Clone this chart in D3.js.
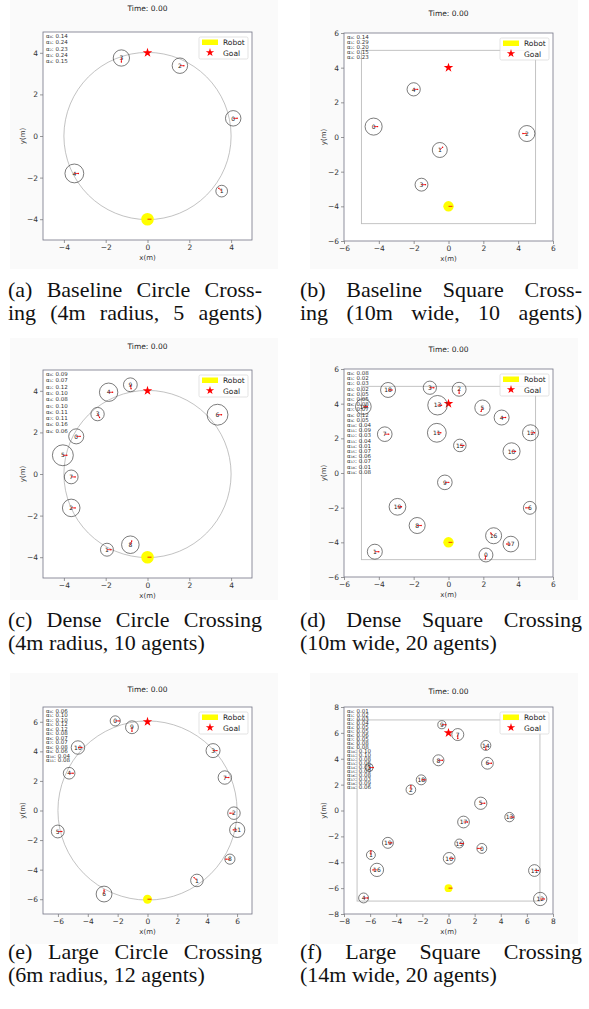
<!DOCTYPE html>
<html>
<head>
<meta charset="utf-8">
<script src="https://cdn.jsdelivr.net/npm/d3@7"></script>
<style>body{margin:0;background:#fff}</style>
</head>
<body>
<div class="canvas"></div>
<script>
// (a) baseline circle crossing
const aX = [4.1, 3.55, 1.55, -1.25, -3.5];
const aY = [0.85, -2.65, 3.38, 3.75, -1.8];
const aR = [0.37, 0.28, 0.37, 0.39, 0.45];
const aHead = [0, 135, 0, -90, 0];
const aAlpha = [0.14, 0.24, 0.23, 0.24, 0.15];

// (b) baseline square crossing
const bX = [-4.3, -0.5, 4.5, -1.55, -2.0];
const bY = [0.6, -0.75, 0.2, -2.75, 2.75];
const bR = [0.49, 0.43, 0.46, 0.37, 0.38];
const bHead = [0, 45, 180, 0, 0];
const bAlpha = [0.14, 0.29, 0.20, 0.15, 0.23];

// (c) dense circle crossing
const cX = [-3.41, -1.94, -3.65, -2.39, -1.86, -4.05, 3.35, -3.65, -0.82, -0.82];
const cY = [1.81, -3.64, -1.63, 2.88, 3.93, 0.9, 2.85, -0.14, -3.4, 4.29];
const cR = [0.36, 0.31, 0.42, 0.32, 0.44, 0.5, 0.5, 0.33, 0.42, 0.33];
const cHead = [0, 0, 0, -60, 0, 0, 0, 0, 70, -80];
const cAlpha = [0.09, 0.07, 0.12, 0.10, 0.08, 0.10, 0.11, 0.11, 0.16, 0.06];

// (d) dense square crossing
const dX = [2.15, -4.23, 0.61, -1.07, 3.05, 1.95, 4.67, -3.66, -1.8, -0.21, 3.62, -0.67, 4.71, -0.63, -4.89, 0.65, 2.59, 3.58, -3.47, -2.93];
const dY = [-4.73, -4.54, 4.83, 4.92, 3.2, 3.77, -2.01, 2.24, -3.03, -0.54, 1.25, 2.32, 2.32, 3.91, 3.83, 1.59, -3.62, -4.1, 4.79, -1.95];
const dR = [0.4, 0.43, 0.4, 0.38, 0.43, 0.44, 0.37, 0.42, 0.46, 0.42, 0.49, 0.54, 0.46, 0.56, 0.45, 0.36, 0.46, 0.45, 0.43, 0.48];
const dHead = [-100, 0, -90, 0, 0, -110, 180, 0, 0, 0, 0, 0, 0, 0, 0, 0, 135, 180, 0, 0];
const dAlpha = [0.08, 0.02, 0.03, 0.02, 0.05, 0.05, 0.08, 0.07, 0.12, 0.05, 0.04, 0.09, 0.03, 0.04, 0.01, 0.07, 0.06, 0.07, 0.01, 0.08];

// (e) large circle crossing
const eX = [-2.16, 3.31, 5.79, 4.39, -5.25, -6.01, -2.91, 5.18, 5.52, -1.04, -4.66, 6.01];
const eY = [6.06, -4.73, -0.18, 4.05, 2.52, -1.42, -5.65, 2.23, -3.29, 5.63, 4.26, -1.31];
const eR = [0.34, 0.42, 0.42, 0.47, 0.39, 0.43, 0.53, 0.45, 0.34, 0.43, 0.45, 0.51];
const eHead = [0, 135, 180, 0, 0, 0, 90, 0, 180, -90, 0, 180];
const eAlpha = [0.06, 0.10, 0.10, 0.12, 0.12, 0.08, 0.07, 0.07, 0.08, 0.06, 0.04, 0.08];

// (f) large square crossing
const fX = [2.55, -5.94, -2.88, -6.07, -6.5, 2.47, 2.98, 0.71, -0.77, -0.51, 0.05, 6.58, 7.02, 4.67, 2.86, 0.82, -5.48, 1.15, -2.09, -4.64];
const fY = [-2.93, -3.44, 1.61, 3.32, -6.76, 0.56, 3.65, 5.87, 3.88, 6.63, -3.7, -4.64, -6.84, -0.51, 5.03, -2.55, -4.59, -0.89, 2.37, -2.5];
const fR = [0.38, 0.34, 0.37, 0.3, 0.38, 0.47, 0.45, 0.46, 0.42, 0.31, 0.45, 0.45, 0.51, 0.36, 0.38, 0.34, 0.51, 0.45, 0.38, 0.42];
const fHead = [180, 90, 90, 0, 0, 0, 0, -90, 0, 0, 0, 0, 0, 0, -90, 0, 180, 0, 0, 0];
const fAlpha = [0.01, 0.02, 0.03, 0.04, 0.05, 0.05, 0.06, 0.05, 0.08, 0.08, 0.10, 0.10, 0.08, 0.06, 0.05, 0.09, 0.08, 0.03, 0.09, 0.06];

const captionA = ['(a) Baseline Circle Cross-', 'ing (4m radius, 5 agents)'];
const captionB = ['(b) Baseline Square Cross-', 'ing (10m wide, 10 agents)'];
const captionC = ['(c) Dense Circle Crossing', '(4m radius, 10 agents)'];
const captionD = ['(d) Dense Square Crossing', '(10m wide, 20 agents)'];
const captionE = ['(e) Large Circle Crossing', '(6m radius, 12 agents)'];
const captionF = ['(f) Large Square Crossing', '(14m wide, 20 agents)'];

// layout of each sub-figure
const panels = [
  {left: 43, top: 32, bottom: 240, lim: 5, step: 2, arena: 'circle', size: 4, bg: [10, 0, 268, 269], titleY: 11, lineH: 6.3,
   X: aX, Y: aY, R: aR, H: aHead, A: aAlpha},
  {left: 344, top: 33, bottom: 241, lim: 6, step: 2, arena: 'square', size: 4, half: 5, bg: [310, 0, 268, 269], titleY: 16, lineH: 5,
   X: bX, Y: bY, R: bR, H: bHead, A: bAlpha},
  {left: 43, top: 370, bottom: 578, lim: 5, step: 2, arena: 'circle', size: 4, bg: [10, 338, 268, 262], titleY: 349, lineH: 6.3,
   X: cX, Y: cY, R: cR, H: cHead, A: cAlpha},
  {left: 344, top: 369, bottom: 577, lim: 6, step: 2, arena: 'square', size: 4, half: 5, bg: [310, 338, 268, 262], titleY: 352, lineH: 5.2,
   X: dX, Y: dY, R: dR, H: dHead, A: dAlpha},
  {left: 43, top: 707, bottom: 914, lim: 7, step: 2, arena: 'circle', size: 6, bg: [10, 673, 268, 271], titleY: 692, lineH: 4.45,
   X: eX, Y: eY, R: eR, H: eHead, A: eAlpha},
  {left: 344, top: 707, bottom: 914, lim: 8, step: 2, arena: 'square', size: 6, half: 7, bg: [310, 673, 268, 271], titleY: 694, lineH: 4,
   X: fX, Y: fY, R: fR, H: fHead, A: fAlpha}
];

const captions = [
  {lines: captionA, x: 8, w: 254, y: 297, justify: [true, true]},
  {lines: captionB, x: 300, w: 282, y: 297, justify: [true, true]},
  {lines: captionC, x: 8, w: 254, y: 627, justify: [true, false]},
  {lines: captionD, x: 300, w: 282, y: 627, justify: [true, false]},
  {lines: captionE, x: 8, w: 254, y: 959, justify: [true, false]},
  {lines: captionF, x: 300, w: 282, y: 959, justify: [true, false]}
];

const svg = d3.select('.canvas').append('svg')
  .attr('width', 589)
  .attr('height', 1009)
  .style('display', 'block');

svg.append('rect').attr('width', 589).attr('height', 1009).attr('fill', '#fff');

const sub = '₀₁₂₃₄₅₆₇₈₉';
const toSub = n => String(n).split('').map(c => sub[+c]).join('');
const fmt = d => String(d).replace('-', '\u2212');
const font = 'DejaVu Sans, sans-serif';

panels.forEach(p => {
  const W = 209;
  const x = d3.scaleLinear().domain([-p.lim, p.lim]).range([p.left, p.left + W]);
  const y = d3.scaleLinear().domain([-p.lim, p.lim]).range([p.bottom, p.top]);
  const k = x(1) - x(0);
  const ticks = d3.range(-p.lim + (p.lim % 2), p.lim + 0.01, p.step);

  svg.append('rect')
    .attr('x', p.bg[0]).attr('y', p.bg[1])
    .attr('width', p.bg[2]).attr('height', p.bg[3])
    .attr('fill', '#fafafa');

  const g = svg.append('g');

  g.append('text')
    .attr('x', p.left + W / 2).attr('y', p.titleY)
    .attr('text-anchor', 'middle')
    .attr('font-family', font).attr('font-size', 7.5)
    .attr('fill', '#222')
    .text('Time: 0.00');

  g.append('rect')
    .attr('x', p.left).attr('y', p.top)
    .attr('width', W).attr('height', p.bottom - p.top)
    .attr('fill', '#fff');

  // axes
  const xa = g.append('g').attr('transform', `translate(0,${p.bottom})`)
    .call(d3.axisBottom(x).tickValues(ticks).tickSize(3).tickPadding(2).tickFormat(fmt));
  const ya = g.append('g').attr('transform', `translate(${p.left},0)`)
    .call(d3.axisLeft(y).tickValues(ticks).tickSize(3).tickPadding(2).tickFormat(fmt));
  [xa, ya].forEach(a => {
    a.select('.domain').remove();
    a.selectAll('line').attr('stroke', '#555').attr('stroke-width', 0.6);
    a.selectAll('text').attr('font-family', font).attr('font-size', 7.5).attr('fill', '#333');
  });

  g.append('text')
    .attr('x', p.left + W / 2).attr('y', p.bottom + 20)
    .attr('text-anchor', 'middle')
    .attr('font-family', font).attr('font-size', 7)
    .attr('fill', '#333')
    .text('x(m)');
  g.append('text')
    .attr('transform', `translate(${p.left - 18},${(p.top + p.bottom) / 2}) rotate(-90)`)
    .attr('text-anchor', 'middle')
    .attr('font-family', font).attr('font-size', 7)
    .attr('fill', '#333')
    .text('y(m)');

  // arena
  if (p.arena === 'circle') {
    g.append('circle')
      .attr('cx', x(0)).attr('cy', y(0)).attr('r', p.size * k)
      .attr('fill', 'none').attr('stroke', '#a8a8a8').attr('stroke-width', 0.7);
  } else {
    g.append('rect')
      .attr('x', x(-p.half)).attr('y', y(p.half))
      .attr('width', x(p.half) - x(-p.half)).attr('height', y(-p.half) - y(p.half))
      .attr('fill', 'none').attr('stroke', '#bdbdbd').attr('stroke-width', 0.9);
  }

  // alpha weights
  g.append('g').selectAll('text')
    .data(p.A)
    .join('text')
    .attr('x', p.left + 3)
    .attr('y', (d, i) => p.top + 6 + i * p.lineH)
    .attr('font-family', font).attr('font-size', 5.5)
    .attr('fill', '#333')
    .text((d, i) => `α${toSub(i)}: ${d.toFixed(2)}`);

  // robot
  g.append('circle')
    .attr('cx', x(0)).attr('cy', y(-p.size)).attr('r', 0.3 * k)
    .attr('fill', '#ffff00');
  g.append('line')
    .attr('x1', x(0)).attr('y1', y(-p.size))
    .attr('x2', x(0) + 4).attr('y2', y(-p.size))
    .attr('stroke', '#e00').attr('stroke-width', 0.8);

  // goal
  g.append('path')
    .attr('d', d3.symbol(d3.symbolStar, 28)())
    .attr('transform', `translate(${x(0)},${y(p.size)})`)
    .attr('fill', '#f00');

  // agents
  const agents = g.append('g').selectAll('g')
    .data(p.X.map((d, i) => ({x: d, y: p.Y[i], r: p.R[i], h: p.H[i], i: i})))
    .join('g')
    .attr('transform', d => `translate(${x(d.x)},${y(d.y)})`);

  agents.append('circle')
    .attr('r', d => d.r * k)
    .attr('fill', 'none')
    .attr('stroke', '#444')
    .attr('stroke-width', 0.7);

  agents.append('text')
    .attr('text-anchor', 'middle')
    .attr('dy', 2.2)
    .attr('font-family', font).attr('font-size', 6)
    .attr('fill', '#222')
    .text(d => d.i);

  agents.append('line')
    .attr('x1', 0).attr('y1', 0)
    .attr('x2', d => 4 * Math.cos(d.h * Math.PI / 180))
    .attr('y2', d => -4 * Math.sin(d.h * Math.PI / 180))
    .attr('stroke', '#e00').attr('stroke-width', 0.8);

  agents.append('circle')
    .attr('cx', d => 4 * Math.cos(d.h * Math.PI / 180))
    .attr('cy', d => -4 * Math.sin(d.h * Math.PI / 180))
    .attr('r', 0.7)
    .attr('fill', '#e00');

  // legend
  const lx = p.left + W - 53, ly = p.top + 5;
  const leg = g.append('g').attr('transform', `translate(${lx},${ly})`);
  leg.append('rect')
    .attr('width', 49).attr('height', 22).attr('rx', 1.5)
    .attr('fill', '#fff').attr('fill-opacity', 0.85)
    .attr('stroke', '#d0d0d0').attr('stroke-width', 0.6);
  leg.append('rect')
    .attr('x', 3).attr('y', 2.5).attr('width', 16).attr('height', 5.5)
    .attr('fill', '#ffff00');
  leg.append('path')
    .attr('d', d3.symbol(d3.symbolStar, 22)())
    .attr('transform', 'translate(11,15.5)')
    .attr('fill', '#f00');
  leg.selectAll('.lt')
    .data(['Robot', 'Goal'])
    .join('text')
    .attr('x', 24)
    .attr('y', (d, i) => 8 + i * 10.5)
    .attr('font-family', font).attr('font-size', 7.5)
    .attr('fill', '#222')
    .text(d => d);

  // frame
  g.append('rect')
    .attr('x', p.left).attr('y', p.top)
    .attr('width', W).attr('height', p.bottom - p.top)
    .attr('fill', 'none').attr('stroke', '#737486').attr('stroke-width', 0.8);
});

// captions, justified like the paper
captions.forEach(c => {
  c.lines.forEach((line, i) => {
    const t = svg.append('text')
      .attr('x', c.x).attr('y', c.y + i * 23)
      .attr('font-family', 'Liberation Serif, Times New Roman, serif')
      .attr('font-size', 22)
      .attr('fill', '#111')
      .text(line);
    if (c.justify[i]) {
      const len = t.node().getComputedTextLength();
      const spaces = line.split(' ').length - 1;
      const ws = (c.w - len) / spaces;
      if (ws >= 0) t.attr('word-spacing', ws);
      else t.attr('textLength', c.w).attr('lengthAdjust', 'spacingAndGlyphs');
    }
  });
});
</script>
</body>
</html>
